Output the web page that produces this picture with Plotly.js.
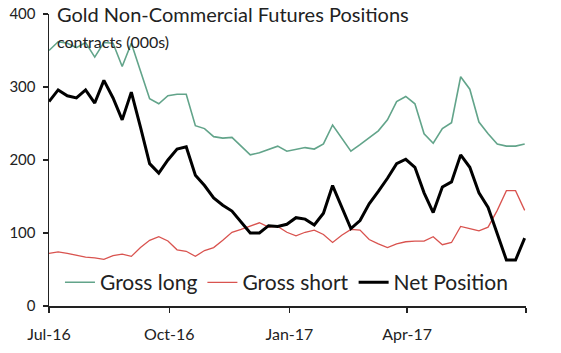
<!DOCTYPE html>
<html>
<head>
<meta charset="utf-8">
<script src="https://cdn.plot.ly/plotly-3.0.1.min.js"></script>
<style>html,body{margin:0;padding:0;background:#fff;}#chart{width:561px;height:353px;}</style>
</head>
<body>
<div id="chart"></div>
<script>
var dates = ["2016-07-05","2016-07-12","2016-07-19","2016-07-26","2016-08-02","2016-08-09","2016-08-16","2016-08-23","2016-08-30",
"2016-09-06","2016-09-13","2016-09-20","2016-09-27","2016-10-04","2016-10-11","2016-10-18","2016-10-25",
"2016-11-01","2016-11-08","2016-11-15","2016-11-22","2016-11-29","2016-12-06","2016-12-13","2016-12-20","2016-12-27",
"2017-01-03","2017-01-10","2017-01-17","2017-01-24","2017-01-31","2017-02-07","2017-02-14","2017-02-21","2017-02-28",
"2017-03-07","2017-03-14","2017-03-21","2017-03-28","2017-04-04","2017-04-11","2017-04-18","2017-04-25",
"2017-05-02","2017-05-09","2017-05-16","2017-05-23","2017-05-30","2017-06-06","2017-06-13","2017-06-20","2017-06-27","2017-07-04"];

var grossLong = [350,362,360,354,361,341,361,360,328,360,322,284,277,288,290,290,247,243,232,230,231,219,207,210,215,219,
212,214,217,215,222,248,230,212,221,230,240,255,280,287,277,236,223,243,251,314,297,252,236,222,219,219,222];

var grossShort = [72,74,72,69,67,66,64,69,71,68,80,90,95,89,77,75,68,76,80,90,101,105,109,114,108,109,
101,96,101,104,98,87,97,105,104,91,85,80,85,88,89,89,95,84,87,109,106,103,108,131,158,158,131];

var netPosition = [280,296,288,285,296,278,309,285,255,293,245,195,182,200,215,218,179,165,148,138,130,115,100,100,110,109,
112,121,119,111,127,165,135,106,117,140,157,175,195,201,190,155,128,163,170,207,190,155,135,100,63,63,93];

var tickDates = ["2016-07-05","2016-10-05","2017-01-05","2017-04-05","2017-07-05"];
var tickLabels = ["Jul-16","Oct-16","Jan-17","Apr-17",""];
var yTicks = [0,100,200,300,400];

var FONT = "Lato, 'Open Sans', sans-serif";

var traces = [
  {x: dates, y: grossLong, name: "Gross long", type: "scatter", mode: "lines",
   line: {color: "#62a48a", width: 1.6}},
  {x: dates, y: grossShort, name: "Gross short", type: "scatter", mode: "lines",
   line: {color: "#d9534f", width: 1.3}},
  {x: dates, y: netPosition, name: "Net Position", type: "scatter", mode: "lines",
   line: {color: "#000000", width: 3}}
];

var layout = {
  width: 561, height: 353,
  margin: {l: 49, r: 35, t: 14, b: 47},
  paper_bgcolor: "#ffffff", plot_bgcolor: "#ffffff",
  font: {family: FONT, color: "#222222", size: 14},
  showlegend: true,
  legend: {orientation: "h", x: 0.023, y: 0.08, xanchor: "left", yanchor: "middle",
           bgcolor: "rgba(0,0,0,0)", font: {size: 21, color: "#222", family: FONT},
           traceorder: "normal", itemwidth: 30},
  xaxis: {type: "date", range: ["2016-07-05","2017-07-05"], tickvals: tickDates, ticktext: tickLabels,
          showgrid: false, zeroline: false, showline: true, linecolor: "#222", linewidth: 1.5,
          ticks: "outside", ticklen: 5, tickcolor: "#222", tickwidth: 1.2, ticklabelstandoff: 8,
          tickfont: {size: 16, color: "#222", family: FONT}, fixedrange: true},
  yaxis: {range: [0, 400], tickvals: yTicks, showgrid: false, zeroline: false,
          showline: true, linecolor: "#222", linewidth: 1.5,
          ticks: "outside", ticklen: 5, tickcolor: "#222", tickwidth: 1.2, ticklabelstandoff: 4,
          tickfont: {size: 15, color: "#222", family: FONT}, fixedrange: true},
  annotations: [
    {text: "Gold Non-Commercial Futures Positions", xref: "paper", yref: "paper",
     x: 0.012, y: 1.0, xanchor: "left", yanchor: "middle", showarrow: false,
     font: {size: 20, color: "#222", family: FONT}},
    {text: "contracts (000s)", xref: "paper", yref: "paper",
     x: 0.012, y: 0.907, xanchor: "left", yanchor: "middle", showarrow: false,
     font: {size: 16, color: "#222", family: FONT}}
  ]
};

Plotly.newPlot("chart", traces, layout, {displayModeBar: false, staticPlot: true});
</script>
</body>
</html>
